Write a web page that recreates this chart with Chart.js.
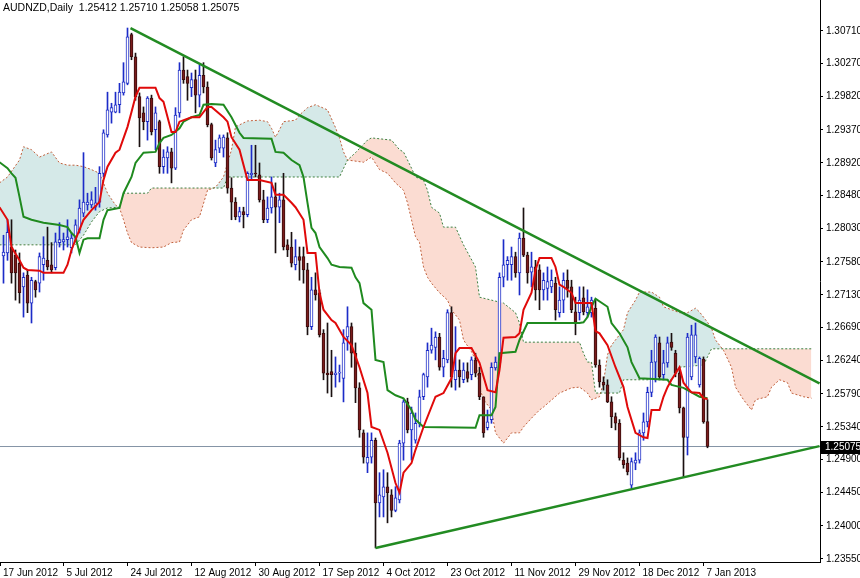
<!DOCTYPE html>
<html>
<head>
<meta charset="utf-8">
<script src="https://cdn.jsdelivr.net/npm/chart.js@4.4.1/dist/chart.umd.min.js"></script>
<style>
  html, body { margin: 0; padding: 0; background: #fff; }
</style>
</head>
<body>
<canvas id="chart" width="860" height="578"></canvas>
<script>
// AUDNZD daily, one value per bar (bar index 0 = 18 Jun 2012)
const symbol = 'AUDNZD,Daily';
const dateLabels = ['17 Jun 2012', '5 Jul 2012', '24 Jul 2012', '12 Aug 2012', '30 Aug 2012', '17 Sep 2012',
  '4 Oct 2012', '23 Oct 2012', '11 Nov 2012', '29 Nov 2012', '18 Dec 2012', '7 Jan 2013'];
const dateTicks = [-1, 15, 31, 47, 63, 79, 95, 111, 127, 143, 159, 175];
const priceTicks = [1.30710, 1.30270, 1.29820, 1.29370, 1.28920, 1.28480, 1.28030, 1.27580, 1.27130,
  1.26690, 1.26240, 1.25790, 1.25340, 1.24900, 1.24450, 1.24000, 1.23550];

const opens = [
  1.2766,1.2770,1.2778,1.2767,1.2756,1.2724,1.2740,1.2702,1.2731,1.2729,
  1.2754,1.2760,1.2754,1.2750,1.2784,1.2785,1.2788,1.2777,1.2790,1.2801,
  1.2824,1.2835,1.2835,1.2832,1.2839,1.2878,1.2930,1.2961,1.2961,1.2971,
  1.2987,1.3000,1.3066,1.3036,1.2982,1.2960,1.2948,1.2980,1.2937,1.2948,
  1.2887,1.2899,1.2907,1.2885,1.2960,1.3018,1.3009,1.2994,1.3005,1.2984,
  1.3011,1.2995,1.2944,1.2892,1.2912,1.2912,1.2926,1.2858,1.2839,1.2819,
  1.2826,1.2822,1.2876,1.2878,1.2876,1.2842,1.2815,1.2831,1.2846,1.2832,
  1.2842,1.2781,1.2778,1.2754,1.2765,1.2765,1.2747,1.2670,1.2720,1.2716,
  1.2661,1.2607,1.2609,1.2605,1.2607,1.2600,1.2656,1.2670,1.2634,1.2587,
  1.2526,1.2485,1.2493,1.2516,1.2431,1.2439,1.2453,1.2442,1.2421,1.2435,
  1.2512,1.2568,1.2530,1.2516,1.2539,1.2575,1.2602,1.2638,1.2642,1.2656,
  1.2615,1.2625,1.2689,1.2598,1.2611,1.2598,1.2609,1.2605,1.2625,1.2607,
  1.2575,1.2533,1.2544,1.2614,1.2621,1.2737,1.2754,1.2754,1.2765,1.2743,
  1.2790,1.2767,1.2744,1.2751,1.2747,1.2720,1.2722,1.2724,1.2729,1.2689,
  1.2706,1.2733,1.2724,1.2690,1.2689,1.2709,1.2689,1.2689,1.2695,1.2618,
  1.2595,1.2591,1.2568,1.2548,1.2539,1.2489,1.2485,1.2455,1.2485,1.2489,
  1.2526,1.2541,1.2581,1.2622,1.2648,1.2605,1.2621,1.2649,1.2634,1.2607,
  1.2560,1.2520,1.2602,1.2629,1.2591,1.2626,1.25412
];
const highs = [
  1.2794,1.2815,1.2815,1.2774,1.2770,1.2743,1.2747,1.2737,1.2733,1.2770,
  1.2792,1.2805,1.2784,1.2797,1.2811,1.2797,1.2815,1.2797,1.2815,1.2842,
  1.2906,1.2851,1.2853,1.2859,1.2887,1.2937,1.2988,1.2973,1.2988,1.3000,
  1.3028,1.3075,1.3068,1.3041,1.2987,1.2968,1.2982,1.2984,1.2968,1.2950,
  1.2910,1.2914,1.2912,1.2967,1.3028,1.3036,1.3018,1.3014,1.3018,1.3025,
  1.3028,1.3002,1.2946,1.2923,1.2930,1.2930,1.2933,1.2872,1.2845,1.2832,
  1.2832,1.2880,1.2916,1.2916,1.2892,1.2855,1.2846,1.2873,1.2865,1.2851,
  1.2878,1.2788,1.2798,1.2788,1.2778,1.2778,1.2756,1.2737,1.2743,1.2720,
  1.2666,1.2675,1.2638,1.2629,1.2618,1.2666,1.2697,1.2675,1.2648,1.2594,
  1.2530,1.2526,1.2526,1.2519,1.2472,1.2476,1.2472,1.2449,1.2453,1.2516,
  1.2571,1.2573,1.2561,1.2553,1.2584,1.2607,1.2648,1.2668,1.2663,1.2661,
  1.2638,1.2693,1.2697,1.2670,1.2625,1.2621,1.2621,1.2629,1.2634,1.2615,
  1.2575,1.2557,1.2621,1.2629,1.2743,1.2788,1.2765,1.2778,1.2771,1.2797,
  1.2831,1.2771,1.2771,1.2760,1.2754,1.2743,1.2751,1.2747,1.2737,1.2724,
  1.2743,1.2747,1.2733,1.2710,1.2724,1.2724,1.2720,1.2710,1.2706,1.2625,
  1.2602,1.2598,1.2575,1.2553,1.2544,1.2499,1.2492,1.2492,1.2499,1.2530,
  1.2553,1.2588,1.2638,1.2659,1.2656,1.2638,1.2656,1.2661,1.2638,1.2611,
  1.2561,1.2661,1.2672,1.2675,1.2629,1.2629,1.25710
];
const lows = [
  1.2729,1.2760,1.2729,1.2706,1.2702,1.2683,1.2689,1.2675,1.2710,1.2717,
  1.2733,1.2747,1.2743,1.2747,1.2778,1.2774,1.2778,1.2770,1.2785,1.2797,
  1.2819,1.2828,1.2831,1.2828,1.2832,1.2873,1.2927,1.2946,1.2960,1.2960,
  1.2984,1.2998,1.3032,1.2977,1.2914,1.2937,1.2923,1.2930,1.2910,1.2878,
  1.2878,1.2878,1.2865,1.2883,1.2954,1.3000,1.2977,1.2982,1.2960,1.2968,
  1.2987,1.2941,1.2896,1.2887,1.2906,1.2900,1.2851,1.2815,1.2815,1.2812,
  1.2804,1.2819,1.2869,1.2873,1.2839,1.2811,1.2811,1.2824,1.2770,1.2811,
  1.2774,1.2765,1.2751,1.2747,1.2733,1.2729,1.2659,1.2666,1.2706,1.2656,
  1.2598,1.2580,1.2575,1.2588,1.2595,1.2568,1.2638,1.2615,1.2567,1.2520,
  1.2485,1.2472,1.2485,1.2370,1.2412,1.2412,1.2404,1.2412,1.2419,1.2431,
  1.2489,1.2526,1.2489,1.2512,1.2534,1.2571,1.2588,1.2634,1.2625,1.2611,
  1.2602,1.2621,1.2588,1.2584,1.2588,1.2594,1.2595,1.2598,1.2602,1.2571,
  1.2520,1.2530,1.2539,1.2611,1.2615,1.2724,1.2733,1.2733,1.2737,1.2713,
  1.2765,1.2729,1.2724,1.2706,1.2693,1.2706,1.2706,1.2716,1.2679,1.2683,
  1.2689,1.2710,1.2689,1.2659,1.2679,1.2686,1.2683,1.2683,1.2615,1.2588,
  1.2584,1.2567,1.2533,1.2530,1.2489,1.2478,1.2469,1.2451,1.2476,1.2485,
  1.2516,1.2534,1.2575,1.2595,1.2598,1.2598,1.2615,1.2638,1.2602,1.2553,
  1.2466,1.2496,1.2598,1.2621,1.2588,1.2539,1.25058
];
const closes = [
  1.2771,1.2798,1.2743,1.2743,1.2716,1.2737,1.2702,1.2733,1.2720,1.2765,
  1.2763,1.2751,1.2747,1.2785,1.2788,1.2788,1.2792,1.2790,1.2808,1.2831,
  1.2839,1.2839,1.2842,1.2838,1.2878,1.2933,1.2964,1.2967,1.2971,1.2988,
  1.3002,1.3063,1.3036,1.2982,1.2953,1.2948,1.2980,1.2934,1.2960,1.2887,
  1.2900,1.2907,1.2885,1.2957,1.3018,1.3005,1.3000,1.3005,1.2984,1.3011,
  1.2995,1.2944,1.2899,1.2910,1.2926,1.2927,1.2858,1.2839,1.2819,1.2826,
  1.2822,1.2878,1.2878,1.2877,1.2842,1.2815,1.2831,1.2846,1.2832,1.2842,
  1.2778,1.2774,1.2756,1.2765,1.2760,1.2747,1.2670,1.2720,1.2713,1.2659,
  1.2607,1.2605,1.2605,1.2607,1.2608,1.2648,1.2670,1.2634,1.2587,1.2530,
  1.2493,1.2493,1.2516,1.2431,1.2442,1.2453,1.2445,1.2421,1.2438,1.2512,
  1.2568,1.2530,1.2553,1.2539,1.2575,1.2605,1.2638,1.2645,1.2656,1.2615,
  1.2627,1.2689,1.2602,1.2611,1.2602,1.2611,1.2600,1.2625,1.2607,1.2575,
  1.2526,1.2541,1.2615,1.2622,1.2737,1.2754,1.2760,1.2765,1.2743,1.2790,
  1.2767,1.2743,1.2751,1.2720,1.2720,1.2733,1.2731,1.2733,1.2693,1.2706,
  1.2733,1.2722,1.2693,1.2676,1.2706,1.2690,1.2697,1.2706,1.2618,1.2595,
  1.2591,1.2568,1.2548,1.2539,1.2492,1.2483,1.2473,1.2487,1.2489,1.2526,
  1.2541,1.2581,1.2622,1.2656,1.2602,1.2621,1.2648,1.2642,1.2607,1.2560,
  1.2520,1.2656,1.2659,1.2659,1.2627,1.2541,1.25075
];

// Ichimoku lines, read as [bar index, price] vertices
const tenkan = [[-1,1.2832],[1,1.2815],[2,1.2778],[4,1.2760],[5,1.2750],[6,1.2747],[9,1.2746],[10,1.2743],[15,1.2743],
  [16,1.2754],[17,1.2774],[18,1.2788],[20,1.2815],[22,1.2828],[24,1.2839],[25,1.2869],[26,1.2887],[28,1.2906],
  [29,1.2910],[31,1.2941],[32,1.2961],[33,1.2982],[34,1.2994],[38,1.2994],[39,1.2980],[40,1.2975],[42,1.2934],
  [43,1.2934],[44,1.2948],[47,1.2954],[49,1.2954],[51,1.2968],[52,1.2968],[55,1.2954],[56,1.2948],[57,1.2927],
  [59,1.2910],[61,1.2869],[64,1.2869],[67,1.2865],[68,1.2849],[70,1.2849],[72,1.2838],[73,1.2832],[75,1.2815],
  [76,1.2770],[78,1.2770],[79,1.2716],[80,1.2693],[82,1.2679],[83,1.2675],[85,1.2656],[87,1.2645],[89,1.2615],
  [91,1.2580],[92,1.2534],[94,1.2530],[96,1.2499],[98,1.2458],[99,1.2445],[100,1.2472],[102,1.2485],[103,1.2503],
  [105,1.2534],[108,1.2575],[110,1.2580],[112,1.2600],[113,1.2634],[114,1.2641],[117,1.2641],[119,1.2621],
  [121,1.2584],[123,1.2581],[124,1.2611],[125,1.2655],[128,1.2656],[129,1.2661],[130,1.2693],[132,1.2716],
  [133,1.2747],[134,1.2763],[137,1.2763],[138,1.2751],[139,1.2727],[140,1.2724],[142,1.2716],[143,1.2702],
  [147,1.2702],[148,1.2664],[149,1.2661],[151,1.2645],[153,1.2615],[155,1.2588],[156,1.2561],[158,1.2526],
  [160,1.2520],[161,1.2519],[162,1.2557],[164,1.2557],[165,1.2575],[166,1.2588],[167,1.2598],[169,1.2615],
  [170,1.2594],[171,1.2587],[172,1.2581],[174,1.2580],[175,1.2573],[176,1.2572]];
const kijun = [[-1,1.2893],[1,1.2885],[2,1.2878],[3,1.2872],[4,1.2846],[5,1.2819],[7,1.2815],[10,1.2811],[14,1.2808],
  [16,1.2805],[17,1.2797],[18,1.2792],[19,1.2770],[20,1.2788],[21,1.2790],[24,1.2790],[25,1.2815],[26,1.2828],
  [29,1.2831],[30,1.2851],[32,1.2873],[33,1.2892],[35,1.2906],[38,1.2907],[39,1.2919],[40,1.2926],[42,1.2930],
  [44,1.2939],[45,1.2948],[47,1.2954],[49,1.2957],[50,1.2971],[52,1.2972],[55,1.2971],[57,1.2954],[59,1.2933],
  [60,1.2926],[67,1.2925],[68,1.2907],[70,1.2906],[72,1.2896],[74,1.2889],[75,1.2873],[76,1.2838],[77,1.2804],
  [78,1.2797],[79,1.2778],[81,1.2763],[82,1.2754],[84,1.2751],[87,1.2750],[88,1.2737],[89,1.2729],[90,1.2702],
  [92,1.2693],[93,1.2625],[95,1.2622],[96,1.2584],[98,1.2577],[100,1.2573],[102,1.2557],[103,1.2544],[105,1.2534],
  [118,1.2533],[119,1.2550],[122,1.2550],[123,1.2561],[124,1.2634],[128,1.2636],[129,1.2652],[131,1.2675],
  [144,1.2675],[145,1.2676],[146,1.2683],[147,1.2697],[148,1.2708],[151,1.2697],[152,1.2675],[154,1.2661],
  [156,1.2642],[157,1.2622],[159,1.2600],[166,1.2598],[167,1.2591],[170,1.2587],[172,1.2581],[174,1.2575],[176,1.2573]];
const senkouA = [[-1,1.2865],[1,1.2873],[4,1.2896],[5,1.2914],[7,1.2910],[9,1.2900],[12,1.2907],[14,1.2892],
  [16,1.2889],[18,1.2889],[20,1.2887],[22,1.2883],[24,1.2878],[25,1.2865],[26,1.2851],[28,1.2835],[29,1.2831],
  [30,1.2815],[31,1.2797],[32,1.2784],[34,1.2778],[37,1.2777],[40,1.2778],[42,1.2784],[44,1.2785],[45,1.2801],
  [47,1.2815],[49,1.2819],[51,1.2855],[53,1.2859],[55,1.2873],[57,1.2910],[58,1.2941],[61,1.2949],[64,1.2950],
  [66,1.2948],[67,1.2939],[68,1.2927],[69,1.2937],[70,1.2948],[73,1.2950],[74,1.2957],[76,1.2967],[78,1.2971],
  [81,1.2964],[83,1.2940],[84,1.2926],[85,1.2907],[86,1.2896],[90,1.2893],[92,1.2900],[94,1.2883],[96,1.2878],
  [98,1.2865],[100,1.2855],[101,1.2838],[102,1.2815],[103,1.2792],[104,1.2784],[105,1.2751],[106,1.2737],
  [107,1.2729],[109,1.2716],[111,1.2706],[112,1.2693],[114,1.2679],[115,1.2652],[117,1.2636],[118,1.2625],
  [119,1.2588],[120,1.2571],[122,1.2557],[123,1.2526],[125,1.2512],[127,1.2526],[129,1.2526],[130,1.2534],
  [132,1.2546],[134,1.2557],[135,1.2561],[139,1.2580],[142,1.2587],[144,1.2588],[146,1.2580],[147,1.2571],
  [149,1.2575],[150,1.2594],[151,1.2632],[152,1.2645],[153,1.2652],[155,1.2666],[156,1.2689],[158,1.2706],
  [159,1.2717],[162,1.2717],[164,1.2710],[165,1.2697],[167,1.2693],[169,1.2689],[171,1.2689],[173,1.2695],
  [174,1.2690],[176,1.2676],[177,1.2668],[178,1.2652],[180,1.2638],[182,1.2615],[183,1.2588],[185,1.2571],
  [187,1.2557],[188,1.2571],[191,1.2575],[192,1.2588],[194,1.2598],[196,1.2594],[197,1.2580],[200,1.2575],[202,1.2573]];
const senkouB = [[-1,1.2781],[18,1.2781],[20,1.2794],[22,1.2812],[24,1.2826],[26,1.2831],[29,1.2832],[30,1.2851],
  [36,1.2851],[37,1.2858],[55,1.2858],[56,1.2873],[84,1.2873],[86,1.2896],[88,1.2906],[91,1.2923],[92,1.2926],
  [97,1.2923],[99,1.2910],[100,1.2907],[101,1.2896],[102,1.2885],[103,1.2873],[105,1.2869],[106,1.2855],
  [107,1.2832],[109,1.2824],[110,1.2805],[113,1.2805],[115,1.2781],[118,1.2751],[119,1.2710],[122,1.2706],
  [125,1.2702],[128,1.2689],[129,1.2675],[130,1.2649],[144,1.2649],[145,1.2634],[146,1.2622],[147,1.2622],
  [148,1.2580],[154,1.2580],[155,1.2598],[167,1.2598],[169,1.2615],[175,1.2618],[177,1.2640],[202,1.2640]];

// hand-drawn triangle lines
const trendUpper = [[31.75, 1.3075], [204, 1.2593]];
const trendLower = [[93, 1.2370], [204, 1.2508]];

const last = closes.length - 1;
const lastPrice = closes[last];
const xMin = -0.875, xMax = 204.125;

const FONT = "'Liberation Sans Narrow', 'Liberation Sans', Arial, sans-serif";
Chart.defaults.font.family = FONT;
Chart.defaults.font.size = 10;
Chart.defaults.color = '#000';

const toXY = arr => arr.map(p => ({ x: p[0], y: p[1] }));
const bars = opens.map((o, i) => i);
const isUp = i => closes[i] >= opens[i];

const lineDs = (label, pts, color, width, order, extra) => Object.assign({
  type: 'line', label, data: toXY(pts), borderColor: color, borderWidth: width,
  pointRadius: 0, tension: 0, fill: false, order
}, extra || {});

const titlePlugin = {
  id: 'title',
  afterDraw(chart) {
    const ctx = chart.ctx;
    ctx.save();
    ctx.font = '10.5px ' + FONT;
    ctx.fillStyle = '#000';
    ctx.textBaseline = 'middle';
    const txt = symbol + '  ' + [opens[last], highs[last], lows[last], closes[last]].map(v => v.toFixed(5)).join(' ');
    ctx.fillText(txt, 3, 8);
    ctx.restore();
  }
};

const priceTag = {
  id: 'priceTag',
  afterDraw(chart) {
    const y = Math.round(chart.scales.y.getPixelForValue(lastPrice));
    const x = chart.chartArea.right;
    const ctx = chart.ctx;
    ctx.save();
    ctx.fillStyle = '#000';
    ctx.fillRect(x + 1, y - 6, 39, 13);
    ctx.fillStyle = '#fff';
    ctx.font = '10px ' + FONT;
    ctx.textBaseline = 'middle';
    ctx.fillText(lastPrice.toFixed(5), x + 5, y + 0.5);
    ctx.restore();
  }
};

new Chart(document.getElementById('chart'), {
  type: 'bar',
  data: {
    datasets: [
      lineDs('Senkou A', senkouA, '#c0603c', 1, 20, {
        borderDash: [2, 2],
        fill: { target: 1, above: 'rgba(80, 165, 158, 0.24)', below: 'rgba(238, 110, 66, 0.24)' }
      }),
      lineDs('Senkou B', senkouB, '#3f7f3f', 1, 19, { borderDash: [2, 2] }),
      lineDs('Price', [[xMin, lastPrice], [xMax, lastPrice]], '#8594a6', 1, 18),
      {
        label: 'Wick', order: 6, grouped: false, barThickness: 1,
        data: bars.map(i => ({ x: i, y: [lows[i], highs[i]] })),
        backgroundColor: bars.map(i => isUp(i) ? '#1c2cc8' : '#1a1010'),
        borderWidth: 0
      },
      {
        label: 'Body', order: 5, grouped: false, barThickness: 3, minBarLength: 1,
        data: bars.map(i => ({ x: i, y: [opens[i], closes[i]] })),
        backgroundColor: bars.map(i => isUp(i) ? '#ffffff' : '#7a1c1c'),
        borderColor: bars.map(i => isUp(i) ? '#1c2cc8' : '#3a0c0c'),
        borderWidth: 1, borderSkipped: false
      },
      lineDs('Kijun', kijun, '#1f8a1f', 2, 3),
      lineDs('Tenkan', tenkan, '#e00a0a', 2, 2),
      lineDs('Trend upper', trendUpper, '#228b22', 2.5, 1),
      lineDs('Trend lower', trendLower, '#228b22', 2.5, 1)
    ]
  },
  options: {
    responsive: false,
    animation: false,
    events: [],
    layout: { padding: 0 },
    plugins: { legend: { display: false }, tooltip: { enabled: false } },
    scales: {
      x: {
        type: 'linear', min: xMin, max: xMax, offset: false,
        grid: { display: true, offset: false, drawOnChartArea: false, drawTicks: true, tickLength: 4, color: '#000' },
        border: { display: true, color: '#000' },
        ticks: {
          autoSkip: false, maxRotation: 0, align: 'start', labelOffset: 3, padding: 1,
          callback: (v, i) => dateLabels[i]
        },
        afterBuildTicks: s => { s.ticks = dateTicks.map(v => ({ value: Math.max(v, xMin) })); },
        afterFit: s => { s.height = 16; s.paddingLeft = 0; s.paddingRight = 0; }
      },
      y: {
        type: 'linear', position: 'right', min: 1.23509, max: 1.31130,
        grid: { display: true, drawOnChartArea: false, drawTicks: true, tickLength: 3, color: '#000' },
        border: { display: true, color: '#000' },
        ticks: { autoSkip: false, padding: 3, callback: v => v.toFixed(5) },
        afterBuildTicks: s => { s.ticks = priceTicks.map(v => ({ value: v })); },
        afterFit: s => { s.width = 40; s.paddingTop = 0; s.paddingBottom = 0; }
      }
    }
  },
  plugins: [titlePlugin, priceTag]
});
</script>
</body>
</html>
